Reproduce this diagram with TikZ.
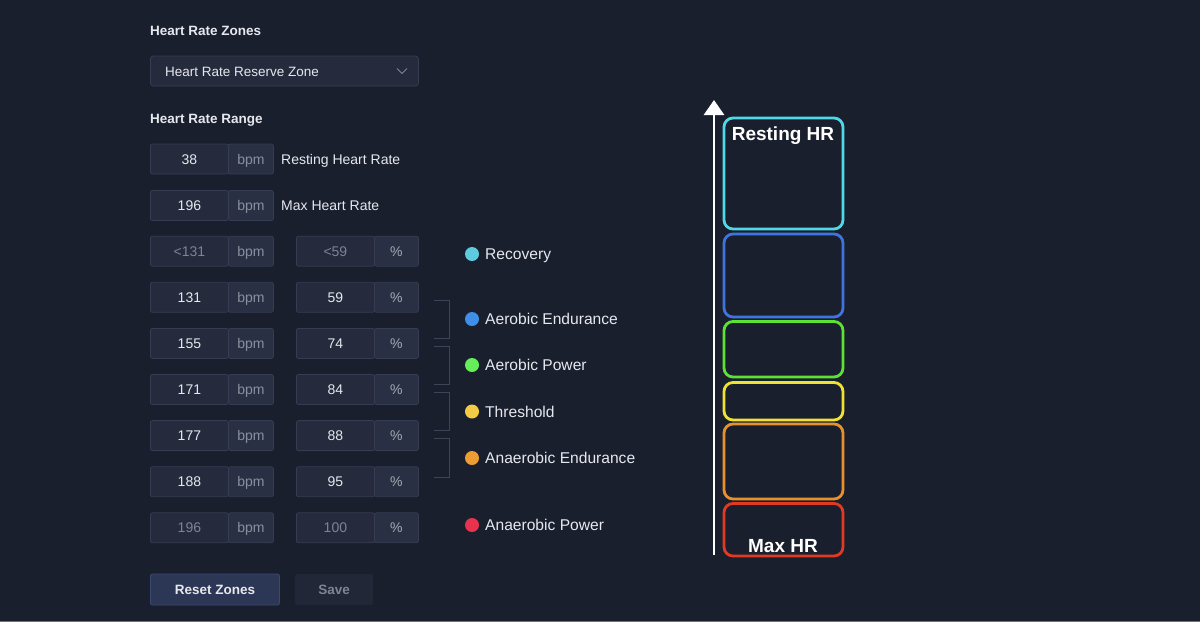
\documentclass[tikz,border=0pt]{standalone}
\usepackage{fontspec}
\setmainfont{Liberation Sans}
\usetikzlibrary{arrows.meta}
\definecolor{bg}{HTML}{1A1F2E}
\definecolor{boxfill}{HTML}{252A3C}
\definecolor{unitfill}{HTML}{2A3043}
\definecolor{boxline}{HTML}{363C51}
\definecolor{txt}{HTML}{E6E8EE}
\definecolor{dim}{HTML}{7E8396}
\definecolor{unit}{HTML}{8A8FA0}
\definecolor{pct}{HTML}{A6AAB6}
\definecolor{brk}{HTML}{3E4457}
\definecolor{cRec}{HTML}{5CCBE0}
\definecolor{cAE}{HTML}{3F8EE8}
\definecolor{cAP}{HTML}{66EE5A}
\definecolor{cTh}{HTML}{F4CB45}
\definecolor{cAnE}{HTML}{EE9D35}
\definecolor{cAnP}{HTML}{E8334F}
\definecolor{zCyan}{HTML}{4FD8E6}
\definecolor{zBlue}{HTML}{3F74E0}
\definecolor{zGreen}{HTML}{5CE232}
\definecolor{zYellow}{HTML}{EEE232}
\definecolor{zOrange}{HTML}{E8902C}
\definecolor{zRed}{HTML}{E03A22}
\definecolor{btn}{HTML}{2C3655}
\definecolor{btnline}{HTML}{3D4870}
\definecolor{savefill}{HTML}{222738}
\definecolor{bottomline}{HTML}{6C7080}
\tikzset{
  title/.style={anchor=west, inner sep=0pt, text height=9.7pt, text depth=0pt, text=txt, font=\fontsize{13.5}{14}\selectfont\bfseries},
  valbox/.style={draw=boxline, fill=boxfill, line width=0.8pt, rounded corners=2pt, minimum width=78pt, minimum height=30pt, inner sep=0pt, text height=10pt, text depth=0pt, anchor=west, font=\fontsize{14}{14}\selectfont},
  unitbox/.style={draw=boxline, fill=unitfill, line width=0.8pt, rounded corners=2pt, minimum height=30pt, inner sep=0pt, text height=10pt, text depth=0pt, anchor=west, font=\fontsize{14}{14}\selectfont},
  label/.style={anchor=west, inner sep=0pt, text height=10pt, text depth=0pt, text=txt, font=\fontsize{14}{14}\selectfont},
  legdot/.style={circle, minimum size=14pt, inner sep=0pt},
  legtxt/.style={anchor=west, inner sep=0pt, text height=11.2pt, text depth=0pt, text=txt, font=\fontsize{15.6}{16}\selectfont},
  bracket/.style={draw=brk, line width=1pt},
  zone/.style={line width=2.8pt, rounded corners=9pt},
  zlabel/.style={text=white, inner sep=0pt, text height=13.7pt, text depth=0pt, font=\fontsize{19}{19}\selectfont\bfseries},
}
\begin{document}
\begin{tikzpicture}[x=1pt,y=-1pt]
\fill[bg] (0,0) rectangle (1200,622);
\useasboundingbox (0,0) rectangle (1200,622);
\draw[bottomline, line width=1pt] (0,621.5) -- (1200,621.5);

% titles
\node[title] (tZones) at (150,31) {Heart Rate Zones};
\node[draw=boxline, fill=boxfill, line width=0.8pt, rounded corners=3pt, minimum width=268pt, minimum height=30pt, anchor=west, inner sep=0pt] (dd) at (150,71) {};
\node[anchor=west, text=txt, font=\fontsize{13.5}{14}\selectfont, inner sep=0pt, text height=9.7pt, text depth=0pt] (ddtxt) at (165,71.5) {Heart Rate Reserve Zone};
\coordinate (chevA) at (397,68.5);
\coordinate (chevB) at (402,73.5);
\coordinate (chevC) at (407,68.5);
\draw[dim, line width=1pt] (chevA) -- (chevB) -- (chevC);
\node[title] (tRange) at (150,119) {Heart Rate Range};

% resting / max rows
\node[valbox, text=txt] (r1v) at (150,159) {38};
\node[unitbox, minimum width=45pt, text=unit] (r1u) at (228,159) {bpm};
\node[label] (r1l) at (281,159) {Resting Heart Rate};
\node[valbox, text=txt] (r2v) at (150,205.5) {196};
\node[unitbox, minimum width=45pt, text=unit] (r2u) at (228,205.5) {bpm};
\node[label] (r2l) at (281,205.5) {Max Heart Rate};

% zone rows
\foreach \i/\b/\p/\c in {3/<131/<59/dim, 4/131/59/txt, 5/155/74/txt, 6/171/84/txt, 7/177/88/txt, 8/188/95/txt, 9/196/100/dim}{
  \pgfmathsetmacro{\yy}{159+46.1*(\i-1)}
  \node[valbox, text=\c] (r\i v) at (150,\yy) {\b};
  \node[unitbox, minimum width=45pt, text=unit] (r\i u) at (228,\yy) {bpm};
  \node[valbox, text=\c] (p\i v) at (296,\yy) {\p};
  \node[unitbox, minimum width=44pt, text=pct] (p\i u) at (374,\yy) {\%};
}

% brackets
\foreach \a/\b in {300/338, 346/384, 392/430, 438/477}{
  \draw[bracket] (434,\a) -- (449,\a) -- (449,\b) -- (434,\b);
}

% legend
\foreach \y/\c/\t/\n in {254/cRec/Recovery/l1, 319/cAE/Aerobic Endurance/l2, 365/cAP/Aerobic Power/l3, 411.5/cTh/Threshold/l4, 458/cAnE/Anaerobic Endurance/l5, 525/cAnP/Anaerobic Power/l6}{
  \node[legdot, fill=\c] (\n d) at (472,\y) {};
  \node[legtxt] (\n t) at (485,\y) {\t};
}

% zone chart
\draw[zone, zCyan]   (724,118) rectangle (843,229);
\draw[zone, zBlue]   (724,234) rectangle (843,317);
\draw[zone, zGreen]  (724,321.5) rectangle (843,377);
\draw[zone, zYellow] (724,382.5) rectangle (843,420);
\draw[zone, zOrange] (724,424) rectangle (843,499);
\draw[zone, zRed]    (724,503.5) rectangle (843,556);
\coordinate (axB) at (714,555);
\coordinate (axT) at (714,100);
\draw[white, line width=2.8pt, -{Triangle[width=20pt,length=15pt]}] (axB) -- (axT);
\node[zlabel] (rest) at (783,134) {Resting HR};
\node[zlabel] (maxhr) at (783,546) {Max HR};

% buttons
\node[draw=btnline, fill=btn, line width=0.8pt, rounded corners=2pt, minimum width=129pt, minimum height=31pt, anchor=west, text=txt, font=\fontsize{13.5}{14}\selectfont\bfseries] (reset) at (150,589.5) {Reset Zones};
\node[fill=savefill, rounded corners=2pt, minimum width=78pt, minimum height=31pt, anchor=west, text=dim, font=\fontsize{13.5}{14}\selectfont\bfseries] (save) at (295,589.5) {Save};
\end{tikzpicture}
\end{document}
